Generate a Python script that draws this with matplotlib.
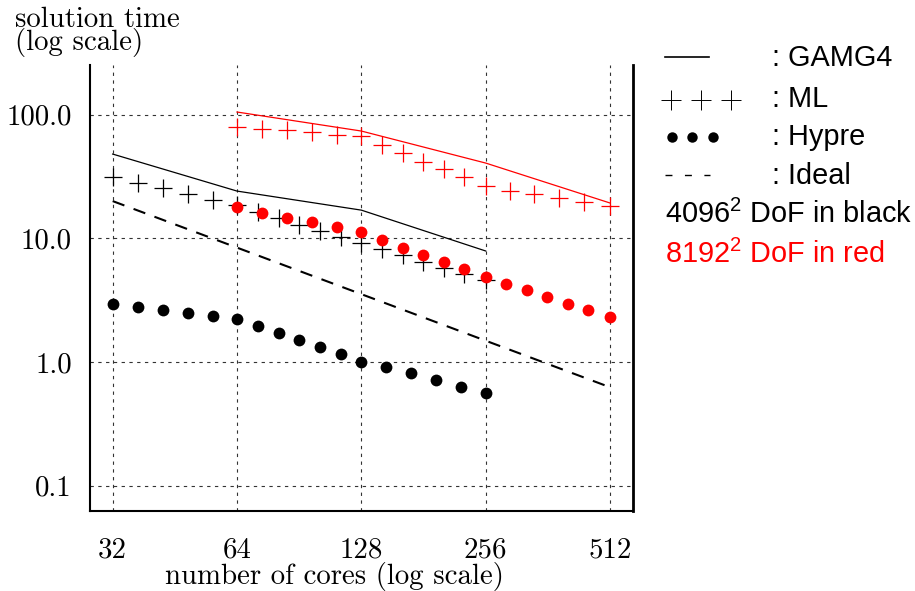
import matplotlib
matplotlib.use("Agg")
from matplotlib import pyplot as plt
from matplotlib.lines import Line2D

plt.rcParams['mathtext.fontset'] = 'custom'
plt.rcParams['mathtext.rm'] = 'Liberation Sans'

# values
# 4096^2 DoF (black)
gamg_blk_x = [32, 64, 128, 256]
gamg_blk_y = [48.0, 24.1, 16.9, 7.9]
ml_blk_x = [32, 36.9, 42.4, 48.7, 56.0, 64, 72.0, 80.8, 90.6, 101.6, 114.2, 128,
            143.5, 161.3, 180.7, 202.8, 227.4, 256]
ml_blk_y = [31.5, 28.2, 25.6, 22.7, 20.4, 18.5, 16.4, 14.5, 12.8, 11.5, 10.2, 9.21,
            8.19, 7.33, 6.47, 5.78, 5.12, 4.60]
hy_blk_x = [32, 36.9, 42.4, 48.7, 56.0, 64, 72.0, 80.8, 90.6, 101.6, 114.2, 128,
            146.7, 168.4, 193.6, 222.6, 256]
hy_blk_y = [2.94, 2.80, 2.63, 2.50, 2.37, 2.23, 1.95, 1.71, 1.51, 1.33, 1.16, 1.0,
            0.906, 0.810, 0.711, 0.628, 0.558]
ideal_x = [32, 512]
ideal_y = [20.0, 0.625]

# 8192^2 DoF (red)
gamg_red_x = [64, 128, 256, 512]
gamg_red_y = [105, 73.7, 40.6, 19.3]
ml_red_x = [64, 73.7, 84.8, 97.4, 112, 128, 143.5, 161.3, 180.7, 202.8, 227.4, 256,
            293, 335.7, 385.3, 443.6, 512]
ml_red_y = [79.8, 76.5, 75.1, 71.9, 68.4, 67.1, 56.8, 48.6, 41.6, 36.1, 31.1, 26.5,
            24.3, 22.7, 21.3, 19.8, 18.4]
hy_red_x = [64, 73.7, 84.8, 97.4, 112, 128, 143.5, 161.3, 180.7, 202.8, 227.4, 256,
            286, 321.7, 360.9, 404.4, 453.6, 512]
hy_red_y = [17.8, 16.1, 14.7, 13.5, 12.3, 11.2, 9.69, 8.40, 7.33, 6.40, 5.61, 4.89,
            4.27, 3.80, 3.35, 2.96, 2.63, 2.32]

xticks = [32, 64, 128, 256, 512]
xlabels = ['32', '64', '128', '256', '512']
yticks = [0.1, 1.0, 10.0, 100.0]
ylabels = ['0.1', '1.0', '10.0', '100.0']

W, H = 915, 591
fig = plt.figure(figsize=(W / 100, H / 100), dpi=100)
ax = fig.add_axes([90 / W, 1 - 511 / H, (633 - 90) / W, (511 - 65) / H])
ax.set_xscale('log')
ax.set_yscale('log')
ax.set_xlim(28.2, 582)
ax.set_ylim(0.0624, 252)

red = '#ff0000'
cm_size = 20.8
# black: 4096^2
ax.plot(gamg_blk_x, gamg_blk_y, color='black', lw=0.9, zorder=3)
ax.plot(ideal_x, ideal_y, color='black', lw=1.5, ls=(0, (6, 4.7)), zorder=3)
ax.plot(ml_blk_x, ml_blk_y, ls='none', marker='+', ms=13.5, mew=0.9, color='black', zorder=4)
ax.plot(hy_blk_x, hy_blk_y, ls='none', marker='o', ms=8.5, mew=0, color='black', zorder=4)
# red: 8192^2
ax.plot(gamg_red_x, gamg_red_y, color=red, lw=0.9, zorder=3)
ax.plot(ml_red_x, ml_red_y, ls='none', marker='+', ms=13.5, mew=0.9, color=red, zorder=5)
ax.plot(hy_red_x, hy_red_y, ls='none', marker='o', ms=8.5, mew=0, color=red, zorder=5)

ax.minorticks_off()
ax.set_xticks(xticks)
ax.set_xticklabels(xlabels, fontfamily='cmr10', fontsize=cm_size)
ax.set_yticks(yticks)
ax.set_yticklabels(ylabels, fontfamily='cmr10', fontsize=cm_size)
ax.tick_params(axis='x', length=0, pad=19)
ax.tick_params(axis='y', length=0, pad=13)
ax.grid(True, color='#333333', lw=0.8, ls=(0, (3, 4)))
ax.set_axisbelow(True)

ax.spines['top'].set_visible(False)
ax.spines['left'].set_linewidth(1.5)
ax.spines['bottom'].set_linewidth(1.5)
ax.spines['right'].set_linewidth(2.0)

# axis titles
fig.text(15 / W, 1 - 27 / H, 'solution time', fontfamily='cmr10', fontsize=cm_size, va='baseline')
fig.text(15 / W, 1 - 50 / H, '(log scale)', fontfamily='cmr10', fontsize=cm_size, va='baseline')
fig.text(334 / W, 1 - 584 / H, 'number of cores (log scale)', fontfamily='cmr10',
         fontsize=cm_size, ha='center', va='baseline')

# hand-made legend on the right
def fx(px):
    return px / W


def fy(py):
    return 1 - py / H


fig.add_artist(Line2D([fx(665), fx(709)], [fy(57.3), fy(57.3)], color='black', lw=1.2))
fig.add_artist(Line2D([fx(671), fx(701), fx(731)], [fy(100)] * 3, ls='none', marker='+',
                      ms=14, mew=0.7, color='black'))
fig.add_artist(Line2D([fx(672), fx(692), fx(713)], [fy(136.7)] * 3, ls='none', marker='o',
                      ms=7.5, mew=0, color='black'))
fig.add_artist(Line2D([fx(665), fx(710)], [fy(175), fy(175)], color='black', lw=1.0,
                      ls=(0, (5, 9))))

leg_font = dict(fontfamily='Liberation Sans', fontsize=20.8, va='baseline')
fig.text(fx(772), fy(66), ': GAMG4', **leg_font)
fig.text(fx(772), fy(107), ': ML', **leg_font)
fig.text(fx(772), fy(145), ': Hypre', **leg_font)
fig.text(fx(772), fy(184), ': Ideal', **leg_font)
fig.text(fx(665), fy(223), r'4096$^\mathrm{2}$ DoF in black', color='black', **leg_font)
fig.text(fx(665), fy(263), r'8192$^\mathrm{2}$ DoF in red', color=red, **leg_font)

fig.savefig('out.png', dpi=100)
